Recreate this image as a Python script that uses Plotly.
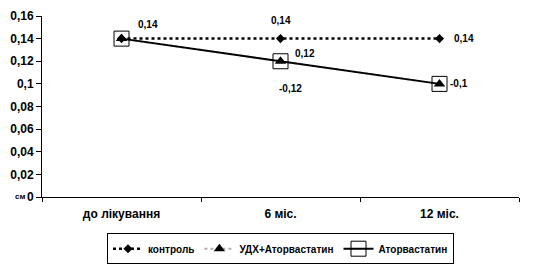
import plotly.graph_objects as go

categories = ["до лікування", "6 міс.", "12 міс."]
control = [0.14, 0.14, 0.14]
udx_ator = [0.14, 0.12, 0.10]
ator = [0.14, 0.12, 0.10]
series_names = ["контроль", "УДХ+Аторвастатин", "Аторвастатин"]
y_ticks = [0, 0.02, 0.04, 0.06, 0.08, 0.1, 0.12, 0.14, 0.16]
y_tick_text = ["0", "0,02", "0,04", "0,06", "0,08", "0,1", "0,12", "0,14", "0,16"]
labels_control = ["0,14", "0,14", "0,14"]
labels_ator = ["", "0,12", "-0,1"]
labels_udx = ["", "-0,12", ""]

FONT = "Liberation Sans, Arial, sans-serif"

fig = go.Figure()
fig.add_trace(go.Scatter(
    x=categories, y=control, name=series_names[0], mode="lines+markers",
    line=dict(color="black", width=2.5, dash="dot"),
    marker=dict(symbol="diamond", size=7, color="black")))
fig.add_trace(go.Scatter(
    x=categories, y=udx_ator, name=series_names[1], mode="lines+markers",
    line=dict(color="#b0b0b0", width=2, dash="dot"),
    marker=dict(symbol="triangle-up", size=10, color="black")))
fig.add_trace(go.Scatter(
    x=categories, y=ator, name=series_names[2], mode="lines+markers",
    line=dict(color="black", width=2),
    marker=dict(symbol="square-open", size=15, color="black", line=dict(width=1))))

ann = []
ann.append(dict(x=categories[0], y=control[0], text=labels_control[0], xshift=26, yshift=14))
ann.append(dict(x=categories[1], y=control[1], text=labels_control[1], xshift=0, yshift=18))
ann.append(dict(x=categories[2], y=control[2], text=labels_control[2], xshift=24, yshift=0))
ann.append(dict(x=categories[1], y=ator[1], text=labels_ator[1], xshift=24, yshift=8))
ann.append(dict(x=categories[2], y=ator[2], text=labels_ator[2], xshift=19, yshift=0))
ann.append(dict(x=categories[1], y=udx_ator[1], text=labels_udx[1], xshift=10, yshift=-27))
for a in ann:
    a.update(xref="x", yref="y", showarrow=False,
             font=dict(family=FONT, size=10, color="black", weight="bold"))
ann.append(dict(xref="paper", yref="y", x=0, y=0, xanchor="right", xshift=-15,
                text="см", showarrow=False, yshift=1,
                font=dict(family=FONT, size=8, color="black", weight="bold")))

fig.update_layout(
    width=550, height=273,
    margin=dict(l=42, r=31, t=16, b=76, autoexpand=False),
    paper_bgcolor="white", plot_bgcolor="white",
    font=dict(family=FONT, size=11, color="black"),
    showlegend=True,
    legend=dict(orientation="h", x=0.5, xanchor="center", y=-0.2, yanchor="top",
                bordercolor="black", borderwidth=1,
                font=dict(family=FONT, size=10, color="black", weight="bold"),
                tracegroupgap=0),
    annotations=ann,
)
fig.update_xaxes(
    type="category", range=[-0.5, 2.5], showgrid=False, showline=True,
    linecolor="black", linewidth=1, ticks="outside", ticklen=4,
    tickcolor="black", tickson="boundaries", ticklabelstandoff=6,
    tickfont=dict(family=FONT, size=12, color="black", weight="bold"))
fig.update_yaxes(
    range=[0, 0.16], tickvals=y_ticks, ticktext=y_tick_text, showgrid=False,
    showline=True, linecolor="black", linewidth=1, ticks="outside", ticklen=5,
    tickcolor="black", zeroline=False,
    tickfont=dict(family=FONT, size=12, color="black", weight="bold"))

fig.write_html("out.html")
